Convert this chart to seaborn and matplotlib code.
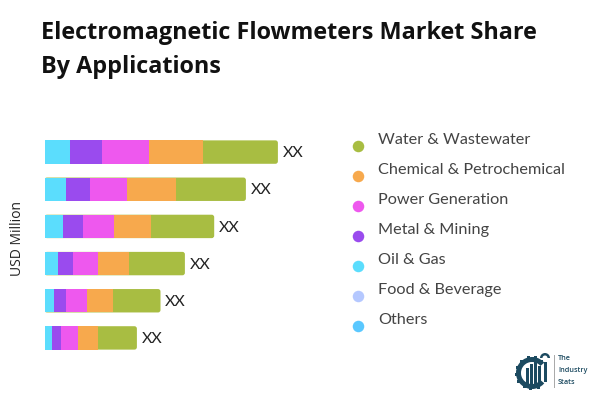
import numpy as np
import seaborn as sns
import matplotlib
matplotlib.use('Agg')
import matplotlib.pyplot as plt
from matplotlib.patches import FancyBboxPatch, Wedge, Rectangle

# widths, top bar first
rows = ['1', '2', '3', '4', '5', '6']
oil_gas = [25, 21.4, 18.4, 13.7, 9.7, 7.4]
metal_mining = [32.4, 24.3, 20, 15, 12, 9.3]
power_gen = [46.6, 37, 30.6, 24.7, 21, 17]
chemical = [54.4, 48.7, 37.7, 31.3, 26, 19.3]
water = [75, 70, 63, 55.7, 47.3, 39.4]

legend_labels = ['Water & Wastewater', 'Chemical & Petrochemical', 'Power Generation',
                 'Metal & Mining', 'Oil & Gas', 'Food & Beverage', 'Others']
legend_colors = ['#A8BD42', '#F7A94D', '#EE58EE', '#9A4BEE', '#5BDDFD', '#B5C8FF', '#5AC8FF']
bar_labels = ['XX', 'XX', 'XX', 'XX', 'XX', 'XX']

sns.set_theme(style='white')
plt.rcParams['font.family'] = ['Lato', 'DejaVu Sans']

fig = plt.figure(figsize=(6, 4), dpi=100)
W, H = 600, 400

# page layer in pixel coords, for the title, legend and logo
page = fig.add_axes([0, 0, 1, 1])
page.set_xlim(0, W)
page.set_ylim(H, 0)
page.axis('off')

ax = fig.add_axes([44.5 / W, 1 - 356.5 / H, 300 / W, 223 / H])

# stacked bars: draw the running totals, biggest first
series = [oil_gas, metal_mining, power_gen, chemical, water]
colors = ['#5BDDFD', '#9A4BEE', '#EE58EE', '#F7A94D', '#A8BD42']
totals = np.cumsum(series, axis=0)
for i in range(len(series) - 1, -1, -1):
    sns.barplot(x=totals[i], y=rows, color=colors[i], saturation=1, width=0.63,
                orient='h', linewidth=0, ax=ax)

ax.set_xlim(0, 300)
ax.set_xlabel('')
ax.set_ylabel('')
ax.set_xticks([])
ax.set_yticks([])
sns.despine(ax=ax, left=True, bottom=True)
ax.patch.set_alpha(0)

# green bars get the small rounded end
n = len(rows)
for p in list(ax.patches[:n]):
    x0, y0, w, h = p.get_x(), p.get_y(), p.get_width(), p.get_height()
    p.remove()
    rounded = FancyBboxPatch((x0, y0), w, h, boxstyle='round,pad=0,rounding_size=2.5',
                             mutation_aspect=1 / 37.2, fc=colors[-1], ec='none', zorder=0.9)
    ax.add_patch(rounded)

for i, lab in enumerate(bar_labels):
    ax.text(totals[-1][i] + 4.5, i + 0.03, lab, va='center', ha='left', fontsize=11.5,
            color='#222222', fontfamily=['Lato', 'DejaVu Sans'])

page.text(41, 33, 'Electromagnetic Flowmeters Market Share', fontsize=16.8, fontweight='bold',
          color='#111111', va='center', ha='left', fontfamily=['Open Sans', 'DejaVu Sans'])
page.text(41, 67, 'By Applications', fontsize=16.8, fontweight='bold',
          color='#111111', va='center', ha='left', fontfamily=['Open Sans', 'DejaVu Sans'])

page.text(17.5, 238, 'USD Million', rotation=90, fontsize=10, color='#222222',
          va='center', ha='center', fontfamily=['Open Sans', 'DejaVu Sans'])

# legend
for i, (lab, col) in enumerate(zip(legend_labels, legend_colors)):
    y = 145.7 + 30 * i
    page.scatter([357.8], [y], s=69, color=col, linewidths=0)
    page.text(378, y - 5.5, lab, fontsize=11.7, color='#444444', va='center', ha='left',
              fontfamily=['Lato', 'DejaVu Sans'])

# logo
navy = '#1C4A60'
page.add_patch(Wedge((532, 373), 16, 40, 320, width=5, fc=navy, ec='none'))
for a in np.arange(50, 320, 27):
    page.add_patch(Rectangle((532 + 15.5 * np.cos(np.radians(a)) - 1.5,
                              373 - 15.5 * np.sin(np.radians(a)) - 1.5), 3, 3, fc=navy, ec='none'))
for bx, by in [(526, 368), (530, 364), (534, 361), (538, 366)]:
    page.add_patch(Rectangle((bx, by), 3, 385 - by, fc=navy, ec='none'))
page.add_patch(Rectangle((543.5, 362), 3, 20, fc=navy, ec='none'))
page.add_patch(Wedge((545, 358), 5, 180, 360, width=2.5, fc=navy, ec='none'))
page.add_patch(Rectangle((553.5, 355), 1, 33, fc='#AAAAAA', ec='none'))
for y, t in zip([359, 370.5, 382], ['The', 'Industry', 'Stats']):
    page.text(558, y, t, fontsize=5.2, fontweight='semibold', color=navy, va='center', ha='left',
              fontfamily=['Open Sans', 'DejaVu Sans'])

fig.savefig('out.png', dpi=100)
